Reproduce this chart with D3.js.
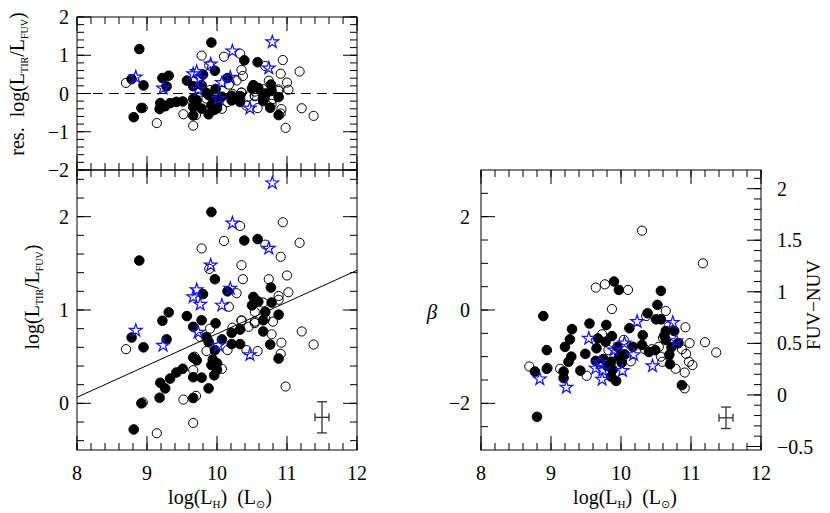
<!DOCTYPE html>
<html><head><meta charset="utf-8">
<script src="https://cdn.jsdelivr.net/npm/d3@7"></script>
<style>body{margin:0;background:#fff}text{font-family:"Liberation Serif",serif;fill:#000}</style>
</head><body><svg width="830" height="513"></svg>
<script>
// ---------- data: log(L_TIR/L_FUV) vs log(L_H) ----------
const filledLH = [9.92,10.39,10.58,8.89,9.97,10.77,9.80,10.15,10.52,10.59,10.78,10.69,10.88,9.31,9.22,9.57,9.78,9.98,8.78,8.95,9.28,9.66,9.85,9.88,9.97,10.07,10.21,10.33,10.21,10.33,10.66,10.76,10.88,9.66,9.71,9.51,9.42,9.33,9.19,9.26,9.66,9.78,9.88,9.96,9.92,10.00,9.18,8.92,9.66,8.81,10.66,10.50,9.94,10.00];
const filledIR = [2.05,1.745,1.76,1.53,1.33,1.24,1.17,1.20,1.14,1.09,1.08,0.98,0.95,0.975,0.885,0.935,0.89,0.857,0.705,0.60,0.685,0.82,0.71,0.66,0.57,0.685,0.635,0.635,0.756,0.79,0.77,0.63,0.48,0.49,0.46,0.37,0.33,0.265,0.22,0.16,0.28,0.275,0.16,0.30,0.41,0.43,0.06,0.0,0.057,-0.28,0.89,1.05,0.47,0.36];
const openLH = [10.33,10.94,10.10,9.78,10.69,11.18,10.91,9.89,10.35,10.37,11.00,10.74,10.28,11.02,10.88,10.88,10.17,10.66,10.54,10.35,10.54,10.80,10.69,11.21,8.70,9.76,9.85,10.15,10.22,10.35,10.45,10.54,10.78,10.92,10.42,10.58,10.91,11.38,10.98,9.66,10.07,8.94,9.52,9.70,9.66,9.14,9.90,9.68];
const openIR = [1.90,1.94,1.74,1.66,1.70,1.72,1.57,1.44,1.48,1.33,1.37,1.33,1.18,1.19,1.15,1.11,1.035,1.08,0.98,0.89,0.875,0.875,0.91,0.77,0.58,0.71,0.56,0.57,0.81,0.885,0.82,0.86,0.74,0.65,0.57,0.56,0.53,0.63,0.18,0.355,0.37,0.01,0.04,0.08,-0.21,-0.32,0.80,0.50];
const starLH = [10.79,10.22,10.74,9.91,9.71,9.66,9.76,10.19,10.07,8.84,9.23,9.73,10.02,10.47];
const starIR = [2.36,1.93,1.66,1.48,1.215,1.14,1.06,1.23,1.05,0.78,0.62,0.76,0.62,0.52];
// fitted relation drawn in the lower-left panel
const fitSlope = 0.34, fitIntercept = 0.065, fitX0 = 8;
// ---------- data: beta vs log(L_H) ----------
const filledBLH = [8.89,10.52,9.90,9.97,10.57,10.38,10.50,10.57,10.64,10.76,10.31,10.12,9.55,9.79,9.30,9.27,9.20,8.94,9.67,9.87,9.78,9.65,9.95,10.17,10.49,10.69,10.64,10.82,10.70,10.87,9.49,9.25,9.29,9.64,9.80,9.86,9.88,10.01,9.93,9.86,9.18,9.18,9.42,8.77,8.80,8.94,9.97,10.05,9.75,10.30,10.40,10.62,10.72];
const filledB = [-0.13,0.11,0.61,0.43,0.41,-0.07,-0.20,-0.20,-0.45,-0.45,-0.54,-0.39,-0.29,-0.32,-0.41,-0.63,-0.79,-0.86,-0.61,-0.56,-0.68,-0.82,-0.79,-0.79,-0.86,-0.96,-0.64,-0.71,-1.16,-1.61,-0.94,-1.11,-1.00,-1.09,-1.20,-1.11,-1.28,-1.13,-1.52,-1.43,-1.32,-1.46,-1.30,-1.32,-2.29,-1.26,-1.00,-0.95,-1.05,-0.75,-0.90,-0.55,-0.80];
const openBLH = [10.30,11.17,9.64,9.77,10.10,9.87,10.64,10.36,10.92,9.73,10.04,10.14,10.34,10.44,10.54,10.57,10.59,10.87,10.93,10.98,10.97,11.02,10.78,10.91,10.91,11.20,11.36,9.13,9.51,8.69,8.95,9.82,10.60,10.68];
const openB = [1.70,1.00,0.48,0.55,0.43,0.02,-0.02,-0.13,-0.37,-0.52,-0.64,-1.10,-0.84,-0.84,-0.79,-1.00,-1.11,-0.84,-0.94,-0.71,-1.11,-1.18,-1.26,-1.34,-1.68,-0.69,-0.91,-1.26,-1.41,-1.21,-1.24,-0.86,-0.60,-0.35];
const starBLH = [10.23,10.74,9.54,9.90,10.05,10.18,10.45,10.79,9.70,9.64,9.74,9.73,10.02,9.22,8.84];
const starB = [-0.25,-0.27,-0.61,-0.86,-0.71,-0.96,-1.20,-0.66,-1.13,-1.25,-1.29,-1.49,-1.30,-1.66,-1.48];
// typical error bars
const errL = {x:11.5, y:-0.15, dx:0.1, dy:0.167};
const errR = {x:11.5, y:-2.31, dx:0.1, dy:0.23};
// tick labels
const xTickLabels = [8,9,10,11,12];
const resTickLabels = [2,1,0,-1,-2];
const irTickLabels = [0,1,2];
const betaTickLabels = [-2,0,2];
const colorTickLabels = [-0.5,0,0.5,1,1.5,2];

// ---------- scales ----------
const svg = d3.select("svg");
const xL = d3.scaleLinear().domain([8,12]).range([77,357]);
const xR = d3.scaleLinear().domain([8,12]).range([481,761]);
const yRes = d3.scaleLinear().domain([-2,2]).range([170,17]);
const yIR = d3.scaleLinear().domain([-0.5,2.5]).range([450,170]);
const yB = d3.scaleLinear().domain([-3,3]).range([450,170]);
const cLo = (-3+1.82)/2.21, cHi = (3+1.82)/2.21;
const yC = d3.scaleLinear().domain([cLo,cHi]).range([450,170]);

const fmt = v => (v<0 ? "\u2212"+Math.abs(v) : String(v));
const rng = (a,b,s) => d3.range(Math.round(a/s), Math.round(b/s)+1).map(i => +(i*s).toFixed(6));

function ticksH(g, sc, yPos, dir, majors, minors){ // dir: -1 up, +1 down
  minors.forEach(v => g.append("line").attr("x1",sc(v)).attr("x2",sc(v)).attr("y1",yPos).attr("y2",yPos+dir*7));
  majors.forEach(v => g.append("line").attr("x1",sc(v)).attr("x2",sc(v)).attr("y1",yPos).attr("y2",yPos+dir*14));
}
function ticksV(g, sc, xPos, dir, majors, minors){
  minors.forEach(v => g.append("line").attr("y1",sc(v)).attr("y2",sc(v)).attr("x1",xPos).attr("x2",xPos+dir*7));
  majors.forEach(v => g.append("line").attr("y1",sc(v)).attr("y2",sc(v)).attr("x1",xPos).attr("x2",xPos+dir*14));
}
const ax = svg.append("g").attr("stroke","#000").attr("stroke-width",1).attr("fill","none");
function box(x,y){
  const [x0,x1]=x.range(), [y1,y0]=y.range();
  ax.append("rect").attr("x",x0).attr("y",y0).attr("width",x1-x0).attr("height",y1-y0);
}
const xMaj = rng(8,12,1), xMin = rng(8,12,0.2);
// top-left panel
box(xL,yRes);
ticksH(ax,xL,17,1,xMaj,xMin); ticksH(ax,xL,170,-1,xMaj,xMin);
ticksV(ax,yRes,77,1,rng(-2,2,1),rng(-2,2,0.2)); ticksV(ax,yRes,357,-1,rng(-2,2,1),rng(-2,2,0.2));
// bottom-left panel
box(xL,yIR);
ticksH(ax,xL,170,1,xMaj,xMin); ticksH(ax,xL,450,-1,xMaj,xMin);
ticksV(ax,yIR,77,1,rng(0,2,1),rng(-0.4,2.4,0.2)); ticksV(ax,yIR,357,-1,rng(0,2,1),rng(-0.4,2.4,0.2));
// right panel
box(xR,yB);
ticksH(ax,xR,170,1,xMaj,xMin); ticksH(ax,xR,450,-1,xMaj,xMin);
ticksV(ax,yB,481,1,rng(-2,2,2),rng(-2.5,2.5,0.5));
ticksV(ax,yC,761,-1,rng(-0.5,2,0.5),rng(-0.5,2.1,0.1));

// zero line in residual panel
svg.append("line").attr("x1",xL(8)).attr("x2",xL(12)).attr("y1",yRes(0)).attr("y2",yRes(0))
  .attr("stroke","#000").attr("stroke-dasharray","10,6");
// fit line
svg.append("line").attr("x1",xL(8)).attr("x2",xL(12))
  .attr("y1",yIR(fitIntercept)).attr("y2",yIR(fitIntercept+fitSlope*(12-fitX0))).attr("stroke","#000");

// ---------- markers ----------
function drawSet(g, xs, ys, xsc, ysc, kind){
  const data = xs.map((v,i)=>[v,ys[i]]).filter(d=>ysc(d[1])>=ysc.range()[1] && ysc(d[1])<=ysc.range()[0]);
  if(kind==="star"){
    g.selectAll(null).data(data).enter().append("path")
      .attr("d", d3.symbol().type(d3.symbolStar).size(50))
      .attr("transform", d=>`translate(${xsc(d[0])},${ysc(d[1])})`)
      .attr("fill","none").attr("stroke","#1010ff").attr("stroke-width",1.2);
  } else {
    g.selectAll(null).data(data).enter().append("circle")
      .attr("cx", d=>xsc(d[0])).attr("cy", d=>ysc(d[1]))
      .attr("r", kind==="filled"?4.8:4.6)
      .attr("fill", kind==="filled"?"#000":"none")
      .attr("stroke","#000").attr("stroke-width",1);
  }
}
const res = (xs,ys) => ys.map((v,i)=> +(v-(fitIntercept+fitSlope*(xs[i]-fitX0))).toFixed(3));
const gp = svg.append("g");
// lower-left
drawSet(gp, openLH, openIR, xL, yIR, "open");
drawSet(gp, filledLH, filledIR, xL, yIR, "filled");
drawSet(gp, starLH, starIR, xL, yIR, "star");
// residuals
drawSet(gp, openLH, res(openLH,openIR), xL, yRes, "open");
drawSet(gp, filledLH, res(filledLH,filledIR), xL, yRes, "filled");
drawSet(gp, starLH, res(starLH,starIR), xL, yRes, "star");
// beta
drawSet(gp, openBLH, openB, xR, yB, "open");
drawSet(gp, filledBLH, filledB, xR, yB, "filled");
drawSet(gp, starBLH, starB, xR, yB, "star");

// error bars
function errBar(e, xs, ys){
  const g = svg.append("g").attr("stroke","#333").attr("stroke-width",1.3);
  const cx=xs(e.x), cy=ys(e.y), x0=xs(e.x-e.dx), x1=xs(e.x+e.dx), y0=ys(e.y+e.dy), y1=ys(e.y-e.dy);
  g.append("line").attr("x1",x0).attr("x2",x1).attr("y1",cy).attr("y2",cy);
  g.append("line").attr("x1",cx).attr("x2",cx).attr("y1",y0).attr("y2",y1);
  g.append("line").attr("x1",x0).attr("x2",x0).attr("y1",cy-4).attr("y2",cy+4);
  g.append("line").attr("x1",x1).attr("x2",x1).attr("y1",cy-4).attr("y2",cy+4);
  g.append("line").attr("x1",cx-5).attr("x2",cx+5).attr("y1",y0).attr("y2",y0);
  g.append("line").attr("x1",cx-5).attr("x2",cx+5).attr("y1",y1).attr("y2",y1);
}
errBar(errL, xL, yIR);
errBar(errR, xR, yB);

// ---------- tick labels ----------
const fs = 20;
const tl = svg.append("g").attr("font-size",fs);
xTickLabels.forEach(v=>{
  tl.append("text").attr("x",xL(v)).attr("y",480).attr("text-anchor","middle").text(v);
  tl.append("text").attr("x",xR(v)).attr("y",480).attr("text-anchor","middle").text(v);
});
resTickLabels.forEach(v=> tl.append("text").attr("x",69).attr("y",yRes(v)+7).attr("text-anchor","end").text(fmt(v)));
irTickLabels.forEach(v=> tl.append("text").attr("x",69).attr("y",yIR(v)+7).attr("text-anchor","end").text(fmt(v)));
betaTickLabels.forEach(v=> tl.append("text").attr("x",470).attr("y",yB(v)+7).attr("text-anchor","end").text(fmt(v)));
colorTickLabels.forEach(v=> tl.append("text").attr("x",777).attr("y",yC(v)+7).attr("text-anchor","start").text(fmt(v)));

// ---------- axis titles ----------
function lhTitle(cx){
  const t = svg.append("text").attr("x",cx).attr("y",504).attr("text-anchor","middle").attr("font-size",20);
  t.append("tspan").text("log(L");
  t.append("tspan").attr("font-size",11).attr("dy",4).text("H");
  t.append("tspan").attr("dy",-4).text(")\u00a0\u00a0(L");
  t.append("tspan").attr("font-size",11).attr("dy",4).attr("style","font-family:'DejaVu Sans'").text("\u2299");
  t.append("tspan").attr("dy",-4).text(")");
}
lhTitle(220); lhTitle(625);
function irTitle(cx, cy, prefix){
  const t = svg.append("text").attr("transform",`translate(${cx},${cy}) rotate(-90)`).attr("text-anchor","middle").attr("font-size",20);
  t.append("tspan").text(prefix+"log(L");
  t.append("tspan").attr("font-size",10).attr("dy",4).text("TIR");
  t.append("tspan").attr("dy",-4).text("/L");
  t.append("tspan").attr("font-size",10).attr("dy",4).text("FUV");
  t.append("tspan").attr("dy",-4).text(")");
}
irTitle(24, 84, "res.\u00a0\u00a0");
irTitle(39, 297, "");
svg.append("text").attr("x",432).attr("y",319).attr("text-anchor","middle").attr("font-size",21)
  .attr("font-style","italic").text("\u03b2");
svg.append("text").attr("transform","translate(820,305) rotate(-90)").attr("text-anchor","middle")
  .attr("font-size",19).text("FUV\u2212NUV");
</script></body></html>
